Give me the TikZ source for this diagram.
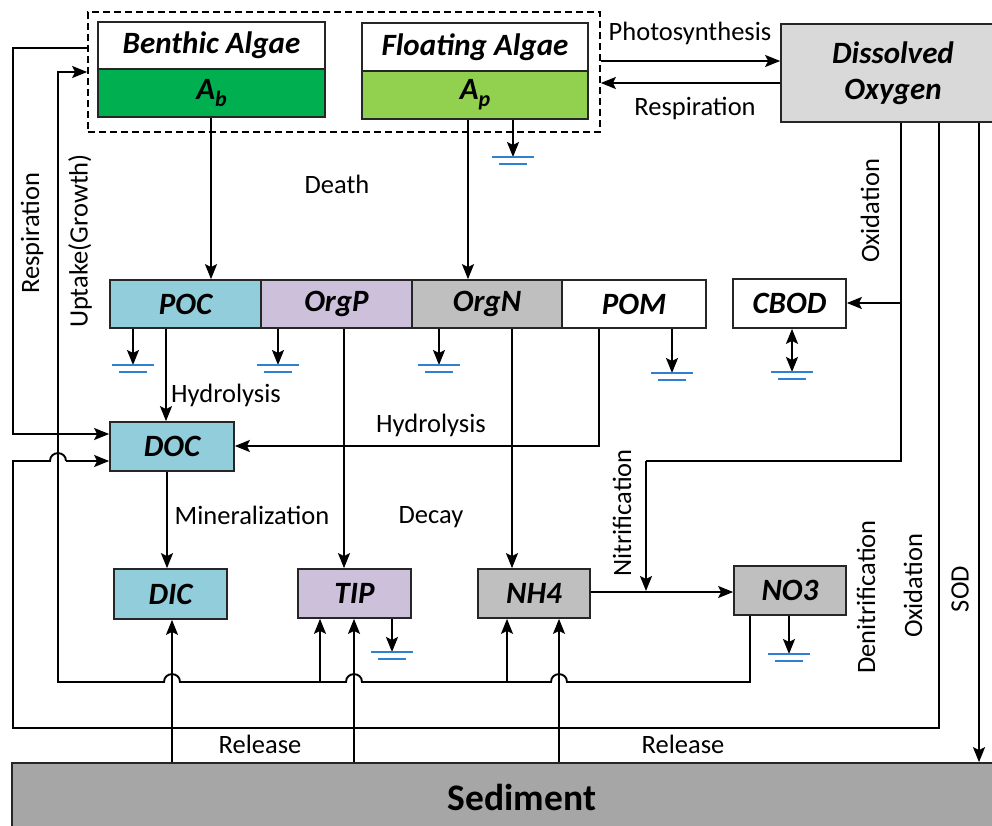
\documentclass[tikz,border=0pt]{standalone}
\usepackage{fontspec}
\setmainfont{Carlito}
\usetikzlibrary{arrows.meta}
\definecolor{cyanbox}{HTML}{92CDDC}
\definecolor{lilac}{HTML}{CCC0DA}
\definecolor{greyb}{HTML}{BFBFBF}
\definecolor{dogrey}{HTML}{D9D9D9}
\definecolor{sedgrey}{HTML}{A6A6A6}
\definecolor{greenA}{HTML}{00B050}
\definecolor{greenB}{HTML}{92D050}
\definecolor{gblue}{HTML}{2F80D0}
\newcommand\boxfont{\fontsize{31}{37}\selectfont\bfseries\itshape}
\newcommand\lblfont{\fontsize{26.5}{31}\selectfont}
\newcommand\subsc[1]{\raisebox{-0.22em}{\fontsize{22}{22}\selectfont #1}}
\tikzset{
 ln/.style={line width=1.9pt, draw=black},
 tipA/.tip={Stealth[length=15pt,width=12pt,inset=3pt]},
 arr/.style={ln, -tipA},
 darr/.style={ln, tipA-tipA},
 box/.style={draw=black!85, line width=1.7pt, inner sep=0pt, font=\boxfont},
 lbl/.style={font=\lblfont, inner sep=0pt},
 gline/.style={draw=gblue, line width=1.6pt},
 gnd/.pic={\draw[gline] (-21,0) -- (21,0); \draw[gline] (-14,7) -- (14,7);}
}
\begin{document}
\begin{tikzpicture}[x=1pt,y=-1pt]
\path[use as bounding box, clip] (0,0) rectangle (992,826);
\fill[white] (0,0) rectangle (992,826);

% algae group
\node[draw=black, line width=1.7pt, dash pattern=on 7pt off 4pt, minimum width=512pt, minimum height=120pt, inner sep=0pt] (alg) at (344,72) {};
\node[box, fill=white, minimum width=227pt, minimum height=47pt] (bent) at (211.5,45.5) {Benthic Algae};
\node[box, fill=greenA, minimum width=227pt, minimum height=48pt] (ab) at (211.5,93) {A\subsc{b}};
\node[box, fill=white, minimum width=226pt, minimum height=48pt] (flo) at (475,47) {Floating Algae};
\node[box, fill=greenB, minimum width=226pt, minimum height=48pt] (ap) at (475,95) {A\subsc{p}};

\node[box, fill=dogrey, minimum width=224pt, minimum height=98pt, align=center] (do) at (893,73) {Dissolved\\[-1pt]Oxygen};

% row of organic matter
\node[box, fill=cyanbox, minimum width=151pt, minimum height=48pt] (poc) at (185.5,304) {POC};
\node[box, fill=lilac, minimum width=151pt, minimum height=48pt] (orgp) at (336.5,304) {OrgP};
\node[box, fill=greyb, minimum width=150pt, minimum height=48pt] (orgn) at (487,304) {OrgN};
\node[box, fill=white, minimum width=144pt, minimum height=48pt] (pom) at (634,304) {POM};
\node[box, fill=white, minimum width=113pt, minimum height=49pt] (cbod) at (789.5,303.5) {CBOD};

\node[box, fill=cyanbox, minimum width=124pt, minimum height=49pt] (doc) at (172,446.5) {DOC};

\node[box, fill=cyanbox, minimum width=113pt, minimum height=50pt] (dic) at (170.5,594) {DIC};
\node[box, fill=lilac, minimum width=113pt, minimum height=49pt] (tip) at (354.5,593.5) {TIP};
\node[box, fill=greyb, minimum width=112pt, minimum height=49pt] (nh4) at (534,593.5) {NH4};
\node[box, fill=greyb, minimum width=112pt, minimum height=49pt] (no3) at (790,590.5) {NO3};

\node[box, fill=sedgrey, minimum width=1020pt, minimum height=68pt, font=\fontsize{37.5}{40}\selectfont\bfseries] (sed) at (522,797) {Sediment};

% labels
\node[lbl] (lphoto) at (690,33) {Photosynthesis};
\node[lbl] (lresp) at (695,108) {Respiration};
\node[lbl] (ldeath) at (337,184) {Death};
\node[lbl] (lhyd1) at (226,395) {Hydrolysis};
\node[lbl] (lhyd2) at (431,425) {Hydrolysis};
\node[lbl] (lmin) at (252,515) {Mineralization};
\node[lbl] (ldecay) at (431,517) {Decay};
\node[lbl] (lrel1) at (260,744) {Release};
\node[lbl] (lrel2) at (683,744) {Release};
\node[lbl,rotate=90] (lox1) at (870,211) {Oxidation};
\node[lbl,rotate=90] (lnit) at (622,513) {Nitrification};
\node[lbl,rotate=90] (ldenit) at (866,597) {Denitrification};
\node[lbl,rotate=90] (lox2) at (913,586) {Oxidation};
\node[lbl,rotate=90] (lsod) at (960,589) {SOD};
\node[lbl,rotate=90] (lresp2) at (32,233) {Respiration};
\node[lbl,rotate=90] (lupt) at (80,241) {Uptake(Growth)};

% photosynthesis / respiration
\draw[arr] (alg.east |- 0,61) -- (do.west |- 0,61);
\draw[arr] (do.west |- 0,83) -- (alg.east |- 0,83);

% death
\draw[arr] (ab.south -| 211,0) -- (poc.north -| 211,0);
\draw[arr] (ap.south -| 468,0) -- (orgn.north -| 468,0);

% settling sinks
\coordinate (gap) at (513,157);
\draw[arr] (ap.south -| gap) -- (gap); \pic at (gap) {gnd};
\coordinate (gpoc) at (133,365);
\draw[arr] (poc.south -| gpoc) -- (gpoc); \pic at (gpoc) {gnd};
\coordinate (gorgp) at (278,365);
\draw[arr] (orgp.south -| gorgp) -- (gorgp); \pic at (gorgp) {gnd};
\coordinate (gorgn) at (439,365);
\draw[arr] (orgn.south -| gorgn) -- (gorgn); \pic at (gorgn) {gnd};
\coordinate (gpom) at (672,373);
\draw[arr] (pom.south -| gpom) -- (gpom); \pic at (gpom) {gnd};
\coordinate (gcbod) at (792,372);
\draw[darr] (cbod.south -| gcbod) -- (gcbod); \pic at (gcbod) {gnd};
\coordinate (gtip) at (392,652);
\draw[arr] (tip.south -| gtip) -- (gtip); \pic at (gtip) {gnd};
\coordinate (gno3) at (789,654);
\draw[arr] (no3.south -| gno3) -- (gno3); \pic at (gno3) {gnd};

% hydrolysis, mineralization, decay
\draw[arr] (poc.south -| 166,0) -- (doc.north -| 166,0);
\draw[arr] (pom.south -| 599,0) -- (599,446) -- (doc.east |- 0,446);
\draw[arr] (doc.south -| 167,0) -- (dic.north -| 167,0);
\draw[arr] (orgp.south -| 344,0) -- (tip.north -| 344,0);
\draw[arr] (orgn.south -| 512,0) -- (nh4.north -| 512,0);

% nitrification
\draw[arr] (nh4.east |- 0,592) -- (no3.west |- 0,592);
\draw[ln] (do.south -| 901,0) -- (901,461) -- (646,461);
\draw[arr] (646,461) -- (646,591);
\draw[arr] (901,303) -- (cbod.east |- 0,303);

% SOD and oxidation
\draw[arr] (do.south -| 979,0) -- (sed.north -| 979,0);
\draw[ln] (do.south -| 939,0) -- (939,728) -- (13,728) -- (13,461) -- (50,461)
  .. controls (50,450.5) and (66,450.5) .. (66,461);
\draw[arr] (66,461) -- (doc.west |- 0,461);

% respiration of algae
\draw[arr] (alg.west |- 0,48) -- (13,48) -- (13,434) -- (doc.west |- 0,434);

% uptake
\draw[arr] (no3.south -| 750,0) -- (750,682) -- (567,682)
  .. controls (567,671.5) and (551,671.5) .. (551,682) -- (362,682)
  .. controls (362,671.5) and (346,671.5) .. (346,682) -- (180,682)
  .. controls (180,671.5) and (164,671.5) .. (164,682) -- (58,682) -- (58,72) -- (alg.west |- 0,72);
\draw[arr] (320,682) -- (tip.south -| 320,0);
\draw[arr] (507,682) -- (nh4.south -| 507,0);

% release
\draw[arr] (sed.north -| 172,0) -- (dic.south -| 172,0);
\draw[arr] (sed.north -| 354,0) -- (tip.south -| 354,0);
\draw[arr] (sed.north -| 559,0) -- (nh4.south -| 559,0);
\end{tikzpicture}
\end{document}
